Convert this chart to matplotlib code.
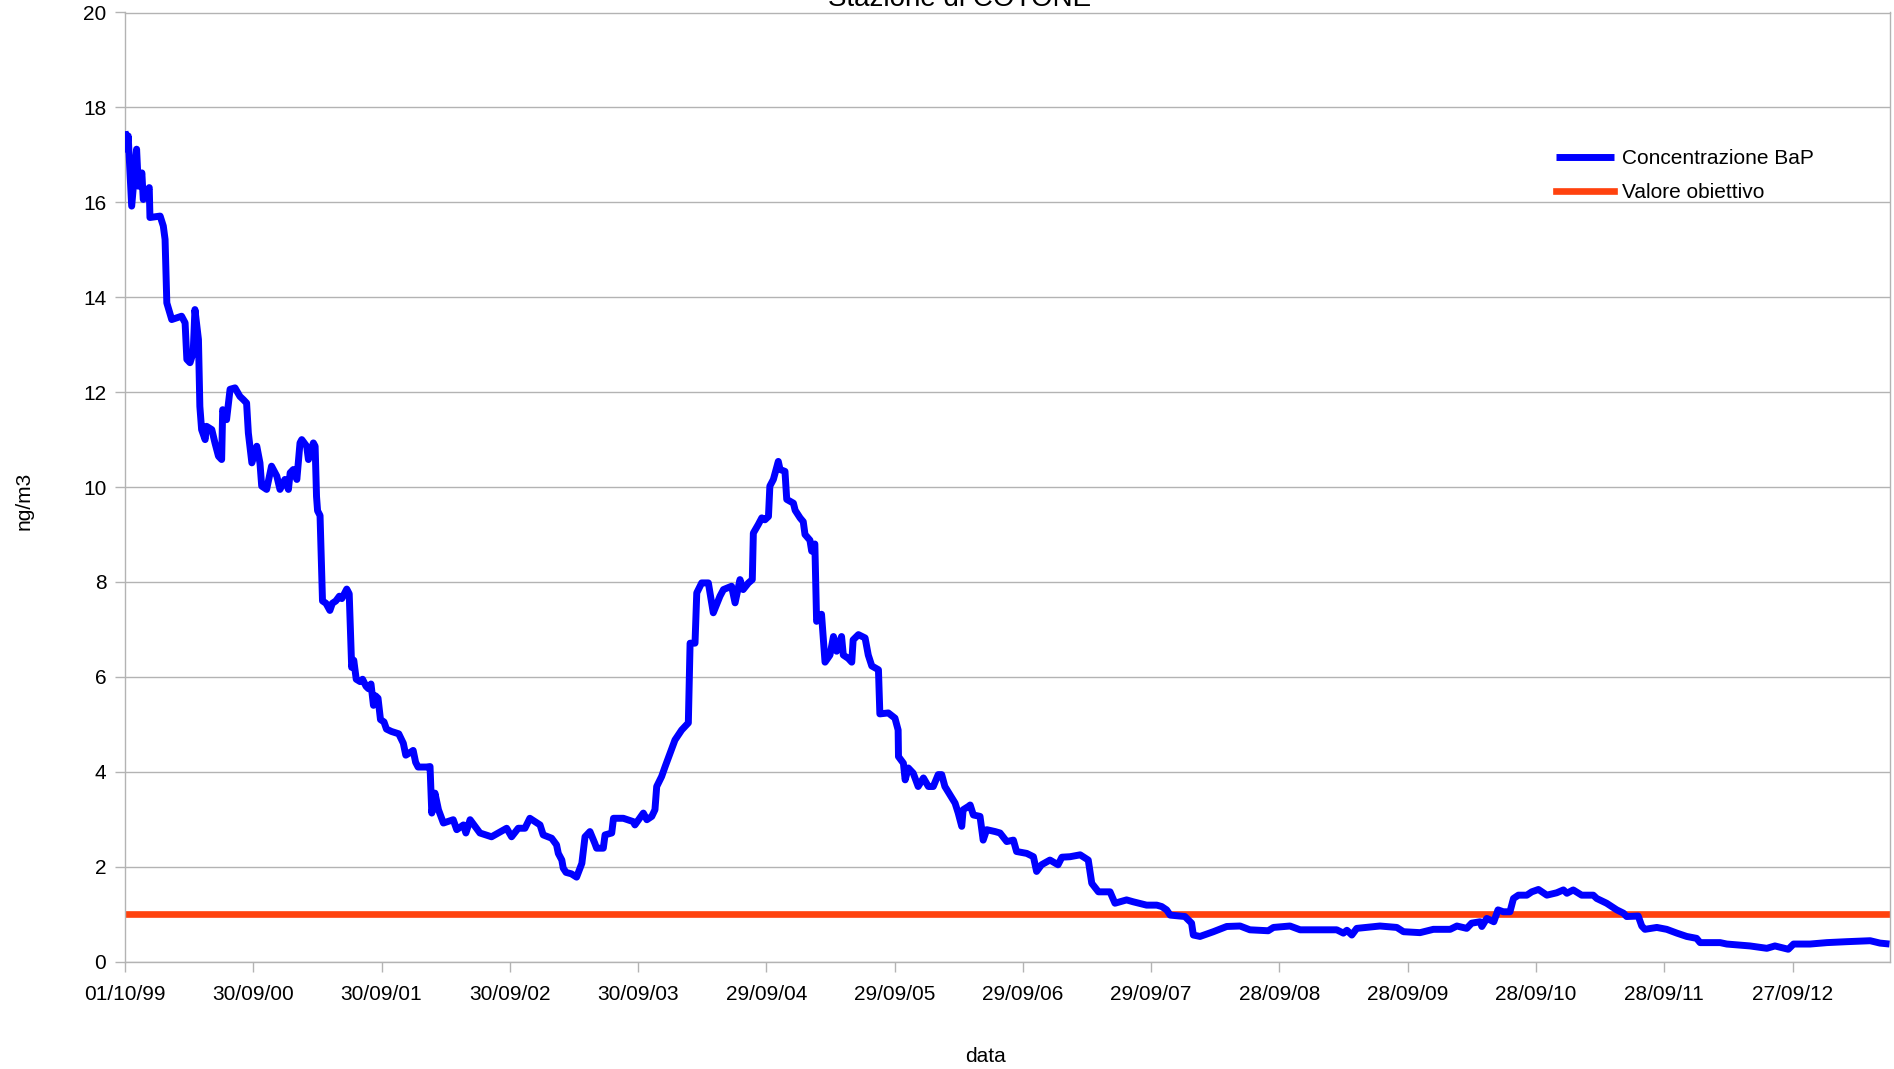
import numpy as np
import matplotlib
matplotlib.use("Agg")
from matplotlib import pyplot as plt

plt.rcParams["font.family"] = ["Liberation Sans", "DejaVu Sans"]

# giorni dal 01/10/1999 e concentrazione media mobile di BaP (ng/m3)
giorni = [
    0, 5, 9, 19, 33, 38, 48, 52, 69, 71, 100, 109, 114, 119, 133, 161, 171,
    176, 185, 194, 199, 209, 213, 218, 228, 232, 247, 256, 266, 275, 278, 289,
    299, 313, 327, 337, 346, 351, 361, 375, 384, 389, 403, 417, 432, 441, 455,
    465, 470, 479, 489, 498, 503, 517, 522, 536, 541, 545, 548, 555, 562, 572,
    583, 590, 600, 610, 617, 631, 638, 645, 651, 658, 669, 676, 686, 693, 700,
    707, 713, 720, 727, 737, 744, 758, 779, 792, 799, 810, 820, 827, 834, 858,
    868, 873, 882, 892, 906, 934, 944, 963, 970, 982, 1010, 1043, 1086, 1100,
    1119, 1138, 1152, 1181, 1190, 1214, 1228, 1233, 1243, 1247, 1255, 1270,
    1285, 1300, 1309, 1323, 1337, 1342, 1361, 1366, 1385, 1390, 1418, 1446,
    1451, 1475, 1485, 1499, 1508, 1513, 1527, 1537, 1551, 1565, 1584, 1603,
    1608, 1622, 1627, 1641, 1660, 1674, 1693, 1703, 1726, 1736, 1750, 1759,
    1774, 1785, 1788, 1802, 1812, 1821, 1831, 1835, 1845, 1859, 1864, 1878,
    1883, 1902, 1907, 1921, 1930, 1935, 1949, 1954, 1963, 1968, 1982, 1992,
    2006, 2016, 2025, 2039, 2044, 2058, 2068, 2072, 2087, 2106, 2115, 2125,
    2144, 2148, 2172, 2191, 2200, 2201, 2215, 2220, 2229, 2243, 2257, 2272,
    2286, 2300, 2314, 2324, 2333, 2348, 2362, 2371, 2381, 2385, 2400, 2405,
    2414, 2433, 2442, 2452, 2476, 2490, 2509, 2528, 2537, 2566, 2585, 2594,
    2608, 2632, 2655, 2666, 2689, 2718, 2741, 2751, 2770, 2803, 2817, 2850,
    2869, 2907, 2936, 2950, 2964, 2974, 3016, 3035, 3040, 3059, 3097, 3135,
    3173, 3201, 3253, 3268, 3315, 3344, 3448, 3467, 3477, 3491, 3505, 3571,
    3619, 3638, 3685, 3723, 3771, 3790, 3818, 3832, 3856, 3861, 3875, 3895,
    3907, 3922, 3941, 3951, 3965, 3989, 4003, 4022, 4046, 4074, 4093, 4103,
    4121, 4145, 4178, 4188, 4216, 4245, 4264, 4273, 4306, 4316, 4325, 4359,
    4387, 4416, 4444, 4472, 4482, 4539, 4558, 4624, 4672, 4695, 4733, 4748,
    4795, 4843, 4900, 4966, 4994, 5021,
]
bap = [
    17.50, 17.12, 17.40, 15.92, 17.12, 16.34, 16.62, 16.06, 16.31, 15.68, 15.71,
    15.50, 15.22, 13.88, 13.53, 13.60, 13.46, 12.69, 12.62, 12.83, 13.74, 13.11,
    11.70, 11.21, 11.00, 11.28, 11.21, 10.93, 10.65, 10.58, 11.63, 11.42, 12.06,
    12.09, 11.91, 11.84, 11.77, 11.14, 10.51, 10.86, 10.51, 10.02, 9.95, 10.44,
    10.23, 9.95, 10.16, 9.95, 10.30, 10.37, 10.16, 10.93, 11.00, 10.86, 10.58,
    10.93, 10.86, 9.80, 9.50, 9.40, 7.60, 7.55, 7.40, 7.55, 7.60, 7.70, 7.65,
    7.85, 7.75, 6.20, 6.35, 5.95, 5.90, 5.95, 5.80, 5.75, 5.85, 5.40, 5.60,
    5.55, 5.10, 5.05, 4.90, 4.85, 4.80, 4.60, 4.35, 4.40, 4.45, 4.20, 4.10,
    4.10, 4.11, 3.13, 3.55, 3.20, 2.92, 2.99, 2.78, 2.88, 2.71, 2.99, 2.71,
    2.63, 2.81, 2.63, 2.81, 2.81, 3.02, 2.88, 2.67, 2.60, 2.46, 2.28, 2.14,
    1.97, 1.88, 1.85, 1.78, 2.07, 2.63, 2.74, 2.49, 2.39, 2.39, 2.67, 2.71,
    3.02, 3.02, 2.95, 2.88, 3.13, 2.99, 3.06, 3.20, 3.69, 3.90, 4.11, 4.39,
    4.67, 4.88, 5.03, 6.71, 6.71, 7.77, 7.98, 7.98, 7.35, 7.70, 7.84, 7.91,
    7.56, 8.05, 7.84, 7.98, 8.05, 9.03, 9.21, 9.35, 9.31, 9.38, 10.02, 10.16,
    10.54, 10.37, 10.33, 9.74, 9.66, 9.51, 9.35, 9.27, 9.00, 8.88, 8.65, 8.80,
    7.17, 7.32, 6.31, 6.46, 6.85, 6.54, 6.85, 6.46, 6.39, 6.31, 6.78, 6.89,
    6.82, 6.46, 6.23, 6.15, 5.22, 5.24, 5.13, 4.88, 4.32, 4.18, 3.83, 4.08,
    3.97, 3.69, 3.87, 3.69, 3.69, 3.94, 3.94, 3.69, 3.51, 3.34, 3.13, 2.85,
    3.20, 3.27, 3.30, 3.09, 3.06, 2.56, 2.78, 2.74, 2.71, 2.53, 2.56, 2.32,
    2.28, 2.21, 1.90, 2.04, 2.14, 2.04, 2.20, 2.21, 2.25, 2.14, 1.65, 1.47,
    1.47, 1.23, 1.30, 1.26, 1.19, 1.19, 1.16, 1.09, 0.98, 0.95, 0.81, 0.56,
    0.53, 0.63, 0.74, 0.75, 0.67, 0.65, 0.72, 0.75, 0.67, 0.67, 0.60, 0.66,
    0.56, 0.70, 0.75, 0.72, 0.63, 0.61, 0.68, 0.68, 0.75, 0.70, 0.81, 0.84,
    0.74, 0.91, 0.84, 1.09, 1.05, 1.05, 1.33, 1.40, 1.40, 1.47, 1.52, 1.40,
    1.45, 1.51, 1.44, 1.51, 1.40, 1.40, 1.33, 1.23, 1.09, 1.02, 0.95, 0.96,
    0.75, 0.68, 0.72, 0.68, 0.60, 0.53, 0.49, 0.40, 0.40, 0.37, 0.33, 0.28,
    0.33, 0.26, 0.37, 0.37, 0.40, 0.42, 0.44, 0.39, 0.37,
]
valore_obiettivo = 1.0

tick_labels = [
    "01/10/99", "30/09/00", "30/09/01", "30/09/02", "30/09/03", "29/09/04",
    "29/09/05", "29/09/06", "29/09/07", "28/09/08", "28/09/09", "28/09/10",
    "28/09/11", "27/09/12",
]

inizio = np.datetime64("1999-10-01")
fine = np.datetime64("2013-06-30")
date = inizio + np.array(giorni).astype("timedelta64[D]")
tick_pos = inizio + (np.arange(len(tick_labels)) * 365).astype("timedelta64[D]")

grigio = "#b3b3b3"

fig = plt.figure(figsize=(18.94, 10.69), dpi=100)
ax = fig.add_axes([125 / 1894, 1 - 961.6 / 1069, (1889.5 - 125) / 1894, (961.6 - 12.5) / 1069])

ax.plot(date, bap, color="#0000ff", lw=5.0, solid_joinstyle="round",
        solid_capstyle="butt", label="Concentrazione BaP", zorder=3)
ax.plot([inizio, fine], [valore_obiettivo, valore_obiettivo], color="#ff420e",
        lw=4.8, label="Valore obiettivo", zorder=2)

ax.set_xlim(inizio, fine)
ax.set_ylim(0, 20)
ax.set_yticks(np.arange(0, 21, 2))
ax.set_xticks(tick_pos, tick_labels)
ax.yaxis.grid(True, color=grigio, lw=1.0)
ax.set_axisbelow(True)
for s in ax.spines.values():
    s.set_color(grigio)
    s.set_linewidth(1.0)
ax.tick_params(axis="both", colors=grigio, labelcolor="black", labelsize=15,
               length=7.5, width=1.0)
ax.tick_params(axis="x", pad=9)
ax.tick_params(axis="y", pad=6)

fig.text(960 / 1894, 1 - 6 / 1069, "Stazione di COTONE", ha="center",
         va="baseline", fontsize=20)
fig.text(24 / 1894, 1 - 501 / 1069, "ng/m3", rotation=90, ha="center",
         va="center", fontsize=15)
fig.text(986 / 1894, 1 - 1057 / 1069, "data", ha="center", va="center",
         fontsize=15)

ax.legend(loc="upper left", bbox_to_anchor=(1556 / 1894, 1 - 149 / 1069),
          bbox_transform=fig.transFigure, frameon=False, fontsize=15,
          handlelength=2.8, handletextpad=0.36, labelspacing=0.74,
          borderpad=0, borderaxespad=0)

plt.savefig("out.png", dpi=100)
